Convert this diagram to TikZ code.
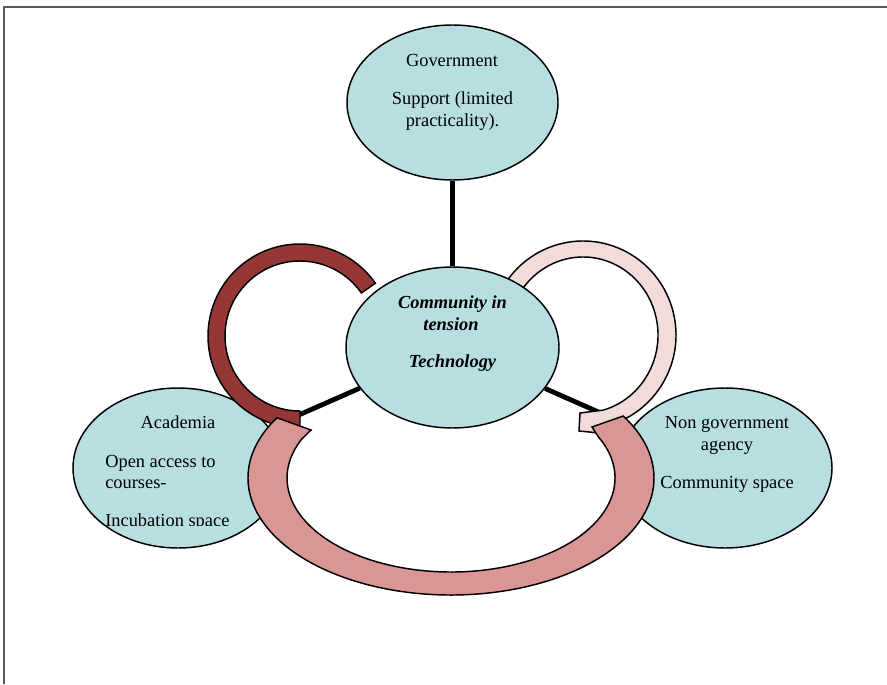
\documentclass[tikz,border=0pt]{standalone}
\usepackage{fontspec}
\setmainfont{Liberation Serif}
\usetikzlibrary{shapes.geometric,calc,backgrounds}
\definecolor{blobblue}{HTML}{B7DEE1}
\definecolor{arcdark}{HTML}{953735}
\definecolor{arcmid}{HTML}{D99694}
\definecolor{arclight}{HTML}{F2DCDB}
\definecolor{framegray}{HTML}{5A5A5A}
\tikzset{
  blob/.style={ellipse, draw=black, line width=1.1pt, fill=blobblue, inner sep=0pt},
  band/.style={draw=black, line width=1.1pt, line join=miter},
  link/.style={line width=3.6pt, black},
  lbl/.style={anchor=base, inner sep=0pt, font=\fontsize{13.8}{16.5}\selectfont},
  lbll/.style={lbl, anchor=base west},
  lblbi/.style={lbl, font=\fontsize{13.8}{16.5}\selectfont\bfseries\itshape},
}
\begin{document}
\begin{tikzpicture}[x=0.75pt, y=-0.75pt]
\useasboundingbox (0,0) rectangle (887,684);
\draw[framegray, line width=1.5pt] (887,7.5) -- (4,7.5) -- (4,684);

% Academia ellipse and dark red arc
\node[blob, minimum width=157.5pt, minimum height=120pt] (acad) at (178,468) {};
\node[lbl] (acT1) at (178,428) {Academia};
\node[lbll] (acT2) at (105,467) {Open access to};
\node[lbll] (acT3) at (105,488) {courses-};
\begin{scope}
  \clip (0,0) rectangle (887,525);
  \node[lbll] (acT4) at (105,526.5) {Incubation space};
\end{scope}
\draw[band, fill=arcdark] ($(300,336)+(-35:92)$) arc[start angle=-35, end angle=-270, radius=92]
  -- ($(300,336)+(-270:75)$) arc[start angle=-270, end angle=-35, radius=75] -- cycle;

% Non government ellipse and light pink arc
\node[blob, minimum width=160.5pt, minimum height=120pt] (ngo) at (725,468) {};
\node[lbl] (ngT1) at (727,428) {Non government};
\node[lbl] (ngT2) at (727,450) {agency};
\node[lbl] (ngT3) at (727,488) {Community space};
\draw[band, fill=arclight] (580,413) -- ($(583,335)+(74.5:75 and 78)$)
  arc[start angle=74.5, end angle=-155, x radius=75, y radius=78]
  -- ($(583,335)+(-155:93 and 94)$)
  arc[start angle=-155, end angle=80, x radius=93, y radius=94]
  -- (600,433) -- (579,431) -- cycle;

% Centre ellipse
\node[blob, minimum width=159.75pt, minimum height=120.75pt] (cen) at (452.5,347.5) {};
\node[lblbi] (cenT1) at (452.5,308) {Community in};
\node[lblbi] (cenT2) at (451,330) {tension};
\node[lblbi] (cenT3) at (452.5,367) {Technology};

% Government ellipse
\node[blob, minimum width=158.25pt, minimum height=116.25pt] (gov) at (452.5,102.5) {};
\node[lbl] (govT1) at (452,67) {Government};
\node[lbl] (govT2) at (452.5,105) {Support (limited};
\node[lbl] (govT3) at (452.5,126.7) {practicality).};

% Big pink arc
\draw[band, fill=arcmid] ($(451,478)+(211:203 and 117)$)
  arc[start angle=211, end angle=-32, x radius=203, y radius=117]
  -- (592,427) -- ($(451,478)+(-26.3:164 and 94)$)
  arc[start angle=-26.3, end angle=204.7, x radius=164, y radius=94]
  -- (311,430) -- cycle;

% Connectors behind everything
\begin{scope}[on background layer]
  \draw[link] (gov) -- (cen);
  \draw[link] (cen) -- (acad);
  \draw[link] (cen) -- (ngo);
\end{scope}
\end{tikzpicture}
\end{document}
